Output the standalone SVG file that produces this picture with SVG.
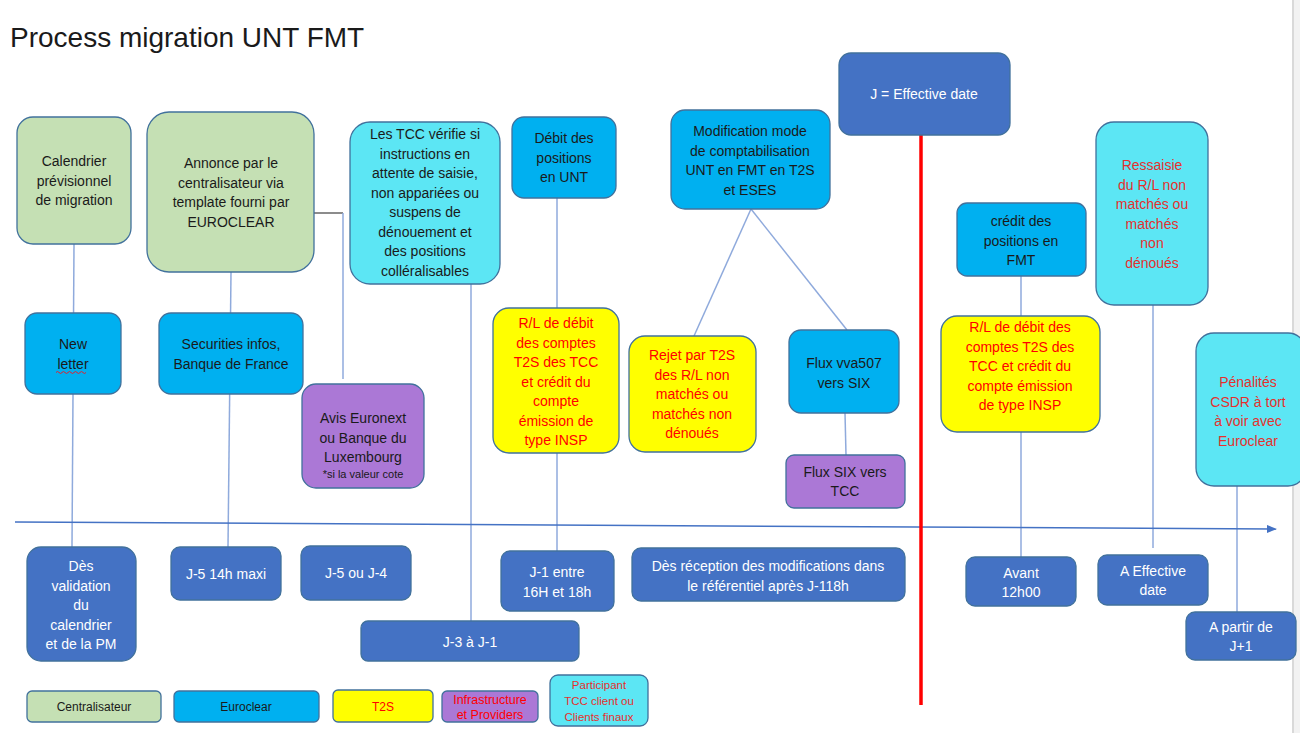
<svg xmlns="http://www.w3.org/2000/svg" width="1300" height="733" viewBox="0 0 1300 733">
<defs>
<marker id="arr" markerWidth="10" markerHeight="8" refX="9" refY="4" orient="auto" markerUnits="userSpaceOnUse">
<path d="M0,0 L10,4 L0,8 Z" fill="#4472C4"/>
</marker>
<style>
text{font-family:"Liberation Sans",Arial,sans-serif;font-size:14px;text-anchor:middle}
.box{stroke:#41719C;stroke-width:1.3}
.g{fill:#C5E0B4}
.c{fill:#5CE6F4}
.b{fill:#00B0F0}
.y{fill:#FFFF00}
.p{fill:#AB78D6}
.d{fill:#4472C4}
.tk{fill:#1a1a1a}
.tw{fill:#ffffff}
.tr{fill:#FF0000}
.trc{fill:#E5302D}
.lg{font-size:12px}
.conn{stroke:#8FAADC;stroke-width:1.5;fill:none}
</style>
</defs>
<rect x="0" y="0" width="1300" height="733" fill="#ffffff"/>
<rect x="1292" y="0" width="8" height="733" fill="#F2F2F2"/>
<line x1="1293" y1="0" x2="1293" y2="733" stroke="#D0D0D0" stroke-width="1.5"/>

<text x="10" y="47" style="font-size:28px;text-anchor:start;fill:#1a1a1a">Process migration UNT FMT</text>

<g id="connectors">
<line class="conn" x1="74" y1="244" x2="72" y2="547"/>
<line class="conn" x1="231" y1="272" x2="228" y2="547"/>
<polyline points="314,213 343,213" stroke="#404040" stroke-width="1.2" fill="none"/>
<line class="conn" x1="343" y1="213" x2="343" y2="379"/>
<line class="conn" x1="471" y1="284" x2="471" y2="621"/>
<line class="conn" x1="557" y1="198" x2="557" y2="551"/>
<line class="conn" x1="751" y1="209" x2="694" y2="336"/>
<line class="conn" x1="751" y1="209" x2="847" y2="330"/>
<line class="conn" x1="845" y1="413" x2="846" y2="455"/>
<line class="conn" x1="1021" y1="276" x2="1021" y2="557"/>
<line class="conn" x1="1153" y1="305" x2="1153" y2="548"/>
<line class="conn" x1="1237" y1="486" x2="1237" y2="612"/>
<line x1="15" y1="522" x2="1276" y2="529" stroke="#4472C4" stroke-width="1.5" marker-end="url(#arr)"/>
<line x1="921" y1="135" x2="921" y2="705" stroke="#FF0000" stroke-width="3.5"/>
</g>

<g id="n-calendrier">
<rect class="box g" x="17" y="117" width="114" height="127" rx="16"/>
<text class="tk"><tspan x="74" y="166">Calendrier</tspan><tspan x="74" y="185.5">prévisionnel</tspan><tspan x="74" y="205">de migration</tspan></text>
</g>
<g id="n-annonce">
<rect class="box g" x="147" y="112" width="167" height="160" rx="22"/>
<text class="tk"><tspan x="231" y="168">Annonce par le</tspan><tspan x="231" y="187.5">centralisateur via</tspan><tspan x="231" y="207">template fourni par</tspan><tspan x="231" y="226.5">EUROCLEAR</tspan></text>
</g>
<g id="n-tcc">
<rect class="box c" x="350" y="122" width="150" height="162" rx="20"/>
<text class="tk"><tspan x="425" y="139">Les TCC vérifie si</tspan><tspan x="425" y="158.5">instructions en</tspan><tspan x="425" y="178">attente de saisie,</tspan><tspan x="425" y="197.5">non appariées ou</tspan><tspan x="425" y="217">suspens de</tspan><tspan x="425" y="236.5">dénouement et</tspan><tspan x="425" y="256">des positions</tspan><tspan x="425" y="275.5">colléralisables</tspan></text>
</g>
<g id="n-debit">
<rect class="box b" x="512" y="117" width="104" height="81" rx="12"/>
<text class="tk"><tspan x="564" y="143">Débit des</tspan><tspan x="564" y="162.5">positions</tspan><tspan x="564" y="182">en UNT</tspan></text>
</g>
<g id="n-modif">
<rect class="box b" x="671" y="110" width="159" height="99" rx="14"/>
<text class="tk"><tspan x="750" y="136">Modification mode</tspan><tspan x="750" y="155.5">de comptabilisation</tspan><tspan x="750" y="175">UNT en FMT en T2S</tspan><tspan x="750" y="194.5">et ESES</tspan></text>
</g>
<g id="n-jdate">
<rect class="box d" x="839" y="53" width="171" height="82" rx="12"/>
<text class="tw" x="924" y="99">J = Effective date</text>
</g>
<g id="n-credit">
<rect class="box b" x="957" y="203" width="129" height="73" rx="10"/>
<text class="tk"><tspan x="1021" y="226">crédit des</tspan><tspan x="1021" y="245.5">positions en</tspan><tspan x="1021" y="265">FMT</tspan></text>
</g>
<g id="n-ressaisie">
<rect class="box c" x="1096" y="122" width="112" height="183" rx="18"/>
<text class="trc"><tspan x="1152" y="170">Ressaisie</tspan><tspan x="1152" y="189.5">du R/L non</tspan><tspan x="1152" y="209">matchés ou</tspan><tspan x="1152" y="228.5">matchés</tspan><tspan x="1152" y="248">non</tspan><tspan x="1152" y="267.5">dénoués</tspan></text>
</g>
<g id="n-newletter">
<rect class="box b" x="25" y="313" width="96" height="81" rx="12"/>
<text class="tk"><tspan x="73" y="349">New</tspan><tspan x="73" y="368.5">letter</tspan></text>
<path d="M56,372.5 q1.5,-2 3,0 t3,0 t3,0 t3,0 t3,0 t3,0 t3,0 t3,0 t3,0 t3,0" stroke="#E81E28" stroke-width="1" fill="none"/>
</g>
<g id="n-securities">
<rect class="box b" x="159" y="313" width="144" height="81" rx="12"/>
<text class="tk"><tspan x="231" y="349">Securities infos,</tspan><tspan x="231" y="368.5">Banque de France</tspan></text>
</g>
<g id="n-avis">
<rect class="box p" x="302" y="384" width="122" height="104" rx="14"/>
<text class="tk"><tspan x="363" y="423">Avis Euronext</tspan><tspan x="363" y="442.5">ou Banque du</tspan><tspan x="363" y="462">Luxembourg</tspan></text>
<text class="tk" x="363" y="478" style="font-size:11px">*si la valeur cote</text>
</g>
<g id="n-rl-left">
<rect class="box y" x="493" y="308" width="126" height="145" rx="16"/>
<text class="tr"><tspan x="556" y="328">R/L de débit</tspan><tspan x="556" y="347.5">des comptes</tspan><tspan x="556" y="367">T2S des TCC</tspan><tspan x="556" y="386.5">et crédit du</tspan><tspan x="556" y="406">compte</tspan><tspan x="556" y="425.5">émission de</tspan><tspan x="556" y="445">type INSP</tspan></text>
</g>
<g id="n-rejet">
<rect class="box y" x="629" y="336" width="127" height="116" rx="16"/>
<text class="tr"><tspan x="692" y="360">Rejet par T2S</tspan><tspan x="692" y="379.5">des R/L non</tspan><tspan x="692" y="399">matchés ou</tspan><tspan x="692" y="418.5">matchés non</tspan><tspan x="692" y="438">dénoués</tspan></text>
</g>
<g id="n-vva507">
<rect class="box b" x="789" y="330" width="110" height="83" rx="12"/>
<text class="tk"><tspan x="844" y="368">Flux vva507</tspan><tspan x="844" y="387.5">vers SIX</tspan></text>
</g>
<g id="n-six">
<rect class="box p" x="786" y="455" width="119" height="53" rx="8"/>
<text class="tk"><tspan x="845" y="477">Flux SIX vers</tspan><tspan x="845" y="496">TCC</tspan></text>
</g>
<g id="n-rl-right">
<rect class="box y" x="941" y="316" width="159" height="116" rx="16"/>
<text class="tr"><tspan x="1020" y="332">R/L de débit des</tspan><tspan x="1020" y="351.5">comptes T2S des</tspan><tspan x="1020" y="371">TCC et crédit du</tspan><tspan x="1020" y="390.5">compte émission</tspan><tspan x="1020" y="410">de type INSP</tspan></text>
</g>
<g id="n-penalites">
<rect class="box c" x="1196" y="333" width="110" height="153" rx="18"/>
<text class="trc"><tspan x="1248" y="387">Pénalités</tspan><tspan x="1248" y="406.5">CSDR à tort</tspan><tspan x="1248" y="426">à voir avec</tspan><tspan x="1248" y="445.5">Euroclear</tspan></text>
</g>

<g id="d-validation">
<rect class="box d" x="27" y="547" width="109" height="114" rx="14"/>
<text class="tw"><tspan x="81" y="571">Dès</tspan><tspan x="81" y="590.5">validation</tspan><tspan x="81" y="610">du</tspan><tspan x="81" y="629.5">calendrier</tspan><tspan x="81" y="649">et de la PM</tspan></text>
</g>
<g id="d-j5-14h">
<rect class="box d" x="171" y="547" width="110" height="53" rx="9"/>
<text class="tw" x="226" y="579">J-5 14h maxi</text>
</g>
<g id="d-j5-j4">
<rect class="box d" x="301" y="546" width="110" height="54" rx="9"/>
<text class="tw" x="356" y="578">J-5 ou J-4</text>
</g>
<g id="d-j3-j1">
<rect class="box d" x="361" y="621" width="218" height="40" rx="7"/>
<text class="tw" x="470" y="647">J-3 à J-1</text>
</g>
<g id="d-j1">
<rect class="box d" x="501" y="551" width="113" height="60" rx="9"/>
<text class="tw"><tspan x="557" y="577">J-1 entre</tspan><tspan x="557" y="596.5">16H et 18h</tspan></text>
</g>
<g id="d-reception">
<rect class="box d" x="632" y="548" width="273" height="53" rx="9"/>
<text class="tw"><tspan x="768" y="571">Dès réception des modifications dans</tspan><tspan x="768" y="590.5">le référentiel après  J-118h</tspan></text>
</g>
<g id="d-avant">
<rect class="box d" x="966" y="557" width="110" height="49" rx="9"/>
<text class="tw"><tspan x="1021" y="578">Avant</tspan><tspan x="1021" y="597">12h00</tspan></text>
</g>
<g id="d-effective">
<rect class="box d" x="1098" y="555" width="110" height="50" rx="9"/>
<text class="tw"><tspan x="1153" y="576">A Effective</tspan><tspan x="1153" y="595">date</tspan></text>
</g>
<g id="d-jplus1">
<rect class="box d" x="1186" y="612" width="110" height="48" rx="9"/>
<text class="tw"><tspan x="1241" y="632">A partir de</tspan><tspan x="1241" y="650.5">J+1</tspan></text>
</g>

<g id="legend">
<rect class="box g" x="27" y="691" width="134" height="31" rx="5"/>
<text class="tk lg" x="94" y="711">Centralisateur</text>
<rect class="box b" x="174" y="691" width="145" height="31" rx="5"/>
<text class="tk lg" x="246" y="711">Euroclear</text>
<rect class="box y" x="333" y="690" width="100" height="32" rx="5"/>
<text class="tr lg" x="383" y="711">T2S</text>
<rect class="box p" x="442" y="691" width="96" height="31" rx="5"/>
<text class="tr lg" style="font-size:12.5px"><tspan x="490" y="704">Infrastructure</tspan><tspan x="490" y="719">et Providers</tspan></text>
<rect class="box c" x="550" y="675" width="98" height="51" rx="8"/>
<text class="trc lg" style="font-size:11.5px"><tspan x="599" y="689">Participant</tspan><tspan x="599" y="705">TCC client ou</tspan><tspan x="599" y="721">Clients finaux</tspan></text>
</g>
</svg>
